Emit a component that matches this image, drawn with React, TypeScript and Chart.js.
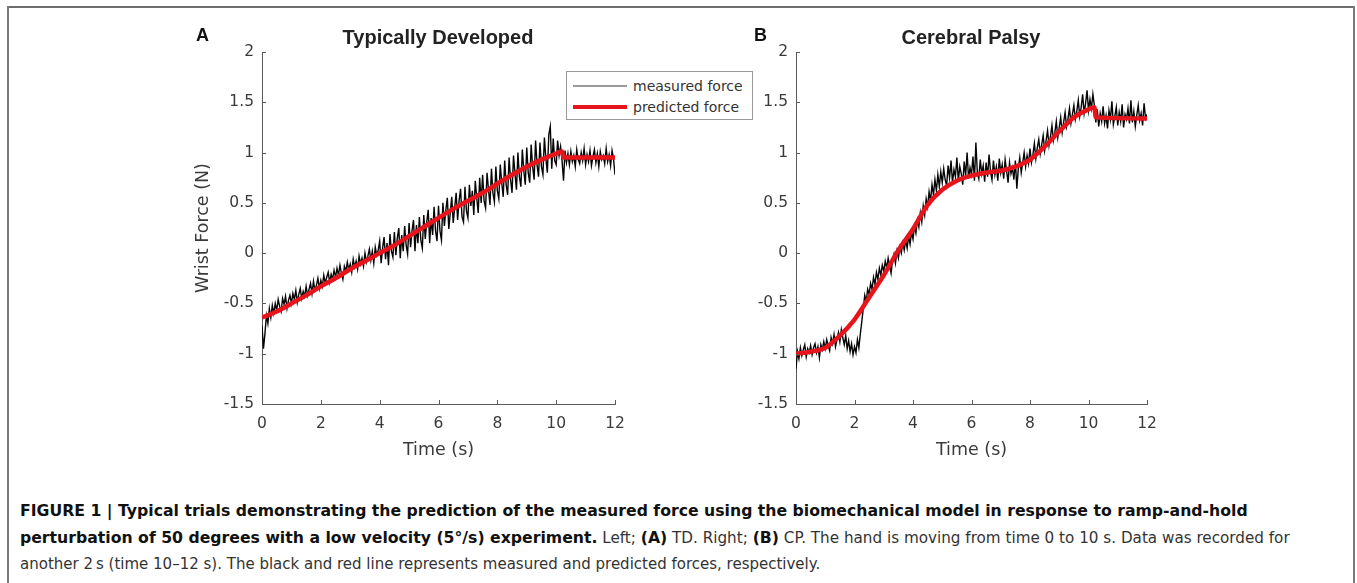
import React, { useEffect, useRef } from "react";
import { Chart, registerables } from "chart.js";
Chart.register(...registerables);

// ---- data ----
const TIME_STEP = 0.05; // s between measured samples

const tdMeasured = [
  -0.72, -0.95, -0.80, -0.62, -0.70, -0.55, -0.64, -0.52, -0.60, -0.50,
  -0.57, -0.46, -0.53, -0.58, -0.45, -0.51, -0.43, -0.55, -0.47, -0.42,
  -0.50, -0.40, -0.46, -0.37, -0.49, -0.41, -0.35, -0.45, -0.38, -0.43,
  -0.33, -0.42, -0.36, -0.30, -0.40, -0.28, -0.37, -0.32, -0.25, -0.35,
  -0.27, -0.33, -0.22, -0.30, -0.24, -0.19, -0.29, -0.21, -0.26, -0.17,
  -0.24, -0.15, -0.22, -0.12, -0.20, -0.26, -0.13, -0.18, -0.09, -0.17,
  -0.11, -0.19, -0.06, -0.14, -0.08, -0.16, -0.03, -0.11, -0.05, -0.13,
  0.00, -0.09, -0.03, 0.04, -0.07, 0.02, -0.10, 0.06, -0.02, 0.03,
  0.12, -0.10, 0.05, 0.16, -0.06, 0.10, -0.12, 0.19, 0.02, -0.04,
  0.21, -0.02, 0.15, 0.25, -0.05, 0.18, 0.02, 0.27, 0.08, -0.01,
  0.30, 0.06, 0.22, 0.33, 0.02, 0.28, 0.10, 0.36, 0.13, 0.05,
  0.38, 0.14, 0.31, 0.43, 0.10, 0.35, 0.18, 0.46, 0.22, 0.12,
  0.47, 0.22, 0.13, 0.50, 0.27, 0.43, 0.55, 0.24, 0.40, 0.56,
  0.30, 0.45, 0.60, 0.33, 0.52, 0.64, 0.36, 0.31, 0.66, 0.42,
  0.35, 0.68, 0.47, 0.62, 0.38, 0.72, 0.55, 0.40, 0.75, 0.50,
  0.78, 0.52, 0.45, 0.80, 0.63, 0.48, 0.84, 0.60, 0.51, 0.86,
  0.62, 0.54, 0.88, 0.70, 0.56, 0.92, 0.68, 0.58, 0.95, 0.73,
  0.60, 0.97, 0.79, 0.63, 1.00, 0.76, 0.66, 1.03, 0.82, 0.68,
  1.05, 0.80, 0.70, 1.08, 0.86, 0.73, 1.12, 0.88, 0.76, 1.10,
  0.86, 0.78, 1.15, 0.94, 0.80, 1.18, 1.26, 0.84, 1.14, 0.92,
  0.88, 1.12, 0.97, 1.06, 0.92, 0.72, 1.02, 0.90, 0.99, 0.88,
  1.01, 0.91, 0.97, 0.86, 1.03, 0.93, 0.89, 1.00, 0.92, 1.04,
  0.88, 0.98, 0.91, 1.02, 0.87, 0.96, 1.03, 0.90, 0.99, 0.86,
  1.01, 0.93, 0.97, 0.89, 1.04, 0.91, 0.98, 0.87, 1.02, 0.94,
  0.78,
];

const tdPredictedTime = [0, 0.5, 1, 1.5, 2, 2.5, 3, 3.5, 4, 4.5, 5, 5.5, 6, 6.5, 7, 7.5, 8, 8.5, 9, 9.5, 10, 10.2, 10.25, 12];
const tdPredicted = [-0.64, -0.58, -0.5, -0.42, -0.33, -0.25, -0.16, -0.08, 0.0, 0.08, 0.17, 0.26, 0.35, 0.44, 0.52, 0.6, 0.69, 0.78, 0.86, 0.93, 0.99, 1.01, 0.95, 0.95];

const cpMeasured = [
  -1.15, -0.98, -1.05, -0.94, -1.02, -0.96, -0.91, -1.03, -0.95, -0.99,
  -0.92, -1.01, -0.94, -0.90, -0.99, -0.93, -1.04, -0.91, -0.96, -0.88,
  -0.95, -0.86, -0.92, -0.97, -0.84, -0.90, -0.81, -0.93, -0.86, -0.79,
  -0.88, -0.76, -0.84, -0.91, -0.82, -0.95, -0.87, -0.98, -0.90, -1.01,
  -0.93, -0.99, -0.86, -0.94, -0.80, -0.68, -0.55, -0.42, -0.48, -0.36,
  -0.41, -0.30, -0.36, -0.24, -0.31, -0.19, -0.26, -0.15, -0.22, -0.12,
  -0.18, -0.08, -0.15, -0.05, -0.13, -0.20, -0.07, -0.01, -0.10, 0.02,
  -0.05, 0.06, 0.00, 0.10, 0.03, 0.13, 0.05, 0.17, 0.09, 0.21,
  0.14, 0.27, 0.20, 0.33, 0.26, 0.40, 0.31, 0.47, 0.38, 0.54,
  0.46, 0.61, 0.52, 0.68, 0.58, 0.73, 0.62, 0.78, 0.66, 0.81,
  0.70, 0.84, 0.73, 0.67, 0.87, 0.75, 0.92, 0.70, 0.83, 0.76,
  0.95, 0.72, 0.86, 0.79, 0.68, 0.91, 0.77, 1.00, 0.74, 0.85,
  0.78, 0.96, 0.72, 1.10, 0.80, 0.74, 0.93, 0.79, 0.87, 0.71,
  0.90, 0.76, 0.98, 0.81, 0.73, 0.92, 0.78, 0.86, 0.72, 0.94,
  0.80, 0.88, 0.74, 0.93, 0.82, 0.70, 0.90, 0.79, 0.85, 0.73,
  0.92, 0.64, 0.84, 0.95, 0.80, 0.90, 1.00, 0.86, 0.97, 0.89,
  1.04, 0.90, 0.98, 1.09, 0.94, 1.05, 1.13, 0.99, 1.08, 1.17,
  1.02, 1.12, 1.22, 1.07, 1.16, 1.27, 1.12, 1.20, 1.31, 1.15,
  1.25, 1.35, 1.20, 1.30, 1.40, 1.26, 1.34, 1.44, 1.29, 1.38,
  1.47, 1.33, 1.41, 1.52, 1.36, 1.45, 1.58, 1.39, 1.49, 1.62,
  1.42, 1.53, 1.44, 1.58, 1.47, 1.30, 1.43, 1.26, 1.39, 1.31,
  1.46, 1.29, 1.37, 1.24, 1.42, 1.33, 1.51, 1.28, 1.36, 1.45,
  1.27, 1.40, 1.31, 1.48, 1.25, 1.38, 1.33, 1.44, 1.29, 1.52,
  1.30, 1.41, 1.26, 1.37, 1.47, 1.32, 1.39, 1.27, 1.49, 1.34,
  1.38,
];

const cpPredictedTime = [0, 0.5, 1, 1.5, 2, 2.5, 3, 3.5, 4, 4.5, 5, 5.5, 6, 6.5, 7, 7.5, 8, 8.5, 9, 9.5, 10, 10.2, 10.25, 12];
const cpPredicted = [-1.0, -0.98, -0.94, -0.82, -0.66, -0.44, -0.22, 0.03, 0.24, 0.48, 0.63, 0.72, 0.77, 0.8, 0.82, 0.86, 0.93, 1.06, 1.21, 1.35, 1.43, 1.45, 1.35, 1.34];

const xMin = 0, xMax = 12, xStep = 2;
const yMin = -1.5, yMax = 2, yStep = 0.5;

const seriesNames = ["measured force", "predicted force"];
const panelTitles = ["Typically Developed", "Cerebral Palsy"];
const panelLetters = ["A", "B"];
const xTitle = "Time (s)";
const yTitle = "Wrist Force (N)";

// ---- styling ----
const FONT = "'Liberation Sans', Arial, Helvetica, sans-serif";
const WIDE = "'DejaVu Sans', 'Liberation Sans', sans-serif";
const AXIS = "#5a5a5a";
const TEXT = "#3a3a3a";
const RED = "#e8141b";

const inwardTicks = {
  id: "inwardTicks",
  afterDraw(chart: any) {
    const { ctx, chartArea } = chart;
    const x = chart.scales.x;
    const y = chart.scales.y;
    ctx.save();
    ctx.strokeStyle = AXIS;
    ctx.lineWidth = 1;
    x.ticks.forEach((t: any) => {
      const px = Math.round(x.getPixelForValue(t.value)) + 0.5;
      ctx.beginPath();
      ctx.moveTo(px, chartArea.bottom);
      ctx.lineTo(px, chartArea.bottom - 4);
      ctx.stroke();
    });
    y.ticks.forEach((t: any) => {
      const py = Math.round(y.getPixelForValue(t.value)) + 0.5;
      ctx.beginPath();
      ctx.moveTo(chartArea.left, py);
      ctx.lineTo(chartArea.left + 4, py);
      ctx.stroke();
    });
    ctx.restore();
  },
};

type PanelProps = {
  measured: number[];
  predTime: number[];
  pred: number[];
  left: number;
  width: number;
  yWidth: number;
  padRight: number;
  showYTitle: boolean;
};

function Panel({ measured, predTime, pred, left, width, yWidth, padRight, showYTitle }: PanelProps) {
  const ref = useRef<HTMLCanvasElement | null>(null);
  useEffect(() => {
    if (!ref.current) return;
    const measuredPts = measured.map((v, i) => ({ x: +(i * TIME_STEP).toFixed(2), y: v }));
    const predPts = pred.map((v, i) => ({ x: predTime[i], y: v }));
    const chart = new Chart(ref.current, {
      type: "line",
      data: {
        datasets: [
          {
            label: seriesNames[0],
            data: measuredPts,
            borderColor: "#050505",
            borderWidth: 1.4,
            pointRadius: 0,
            tension: 0,
            order: 2,
          },
          {
            label: seriesNames[1],
            data: predPts,
            borderColor: RED,
            borderWidth: 4.5,
            pointRadius: 0,
            cubicInterpolationMode: "monotone",
            order: 1,
          },
        ],
      },
      options: {
        animation: false,
        responsive: false,
        devicePixelRatio: 1,
        layout: { padding: { top: 12, right: padRight, bottom: 0, left: 0 } },
        plugins: { legend: { display: false }, tooltip: { enabled: false }, title: { display: false } },
        scales: {
          x: {
            type: "linear",
            min: xMin,
            max: xMax,
            grid: { display: false, drawTicks: false },
            border: { display: true, color: AXIS, width: 1 },
            ticks: {
              stepSize: xStep,
              color: TEXT,
              padding: 11,
              maxRotation: 0,
              font: { family: WIDE, size: 15.5 },
              callback: (v: any) => String(v),
            },
            title: {
              display: true,
              text: xTitle,
              color: TEXT,
              font: { family: WIDE, size: 17.5 },
              padding: { top: 0, bottom: 9 },
            },
            afterFit: (s: any) => {
              s.height = 66;
              s.paddingLeft = 0;
              s.paddingRight = 0;
            },
          },
          y: {
            type: "linear",
            min: yMin,
            max: yMax,
            grid: { display: false, drawTicks: false },
            border: { display: true, color: AXIS, width: 1 },
            ticks: {
              stepSize: yStep,
              color: TEXT,
              padding: 8,
              font: { family: WIDE, size: 15.5 },
              callback: (v: any) => String(v),
            },
            title: {
              display: showYTitle,
              text: yTitle,
              color: TEXT,
              font: { family: WIDE, size: 17.5 },
              padding: { top: 13, bottom: 0 },
            },
            afterFit: (s: any) => {
              s.width = yWidth;
              s.paddingTop = 0;
              s.paddingBottom = 0;
            },
          },
        },
      },
      plugins: [inwardTicks],
    } as any);
    return () => chart.destroy();
  }, []);
  return (
    <canvas
      ref={ref}
      width={width}
      height={430}
      style={{ position: "absolute", left, top: 40, width, height: 430 }}
    />
  );
}

const abs = (o: React.CSSProperties): React.CSSProperties => ({ position: "absolute", ...o });
const B = ({ children }: { children: React.ReactNode }) => (
  <b style={{ color: "#111", fontSize: 15.7 }}>{children}</b>
);

export default function App() {
  return (
    <div style={abs({ left: 0, top: 0, width: 1357, height: 583, background: "#fff", overflow: "hidden", fontFamily: FONT })}>
      {/* frame */}
      <div style={abs({ left: 7, top: 6, width: 1348, height: 2, background: "#6e6e6e" })} />
      <div style={abs({ left: 7, top: 6, width: 2, height: 600, background: "#7a7a7a" })} />
      <div style={abs({ left: 1353, top: 6, width: 2, height: 600, background: "#7a7a7a" })} />

      <Panel measured={tdMeasured} predTime={tdPredictedTime} pred={tdPredicted} left={180} width={450} yWidth={82} padRight={15} showYTitle={true} />
      <Panel measured={cpMeasured} predTime={cpPredictedTime} pred={cpPredicted} left={720} width={440} yWidth={76} padRight={13} showYTitle={false} />

      {/* panel letters and titles */}
      <div style={abs({ left: 196, top: 24, fontWeight: 700, fontSize: 18, color: "#111", lineHeight: "22px" })}>{panelLetters[0]}</div>
      <div style={abs({ left: 754, top: 24, fontWeight: 700, fontSize: 18, color: "#111", lineHeight: "22px" })}>{panelLetters[1]}</div>
      <div style={abs({ left: 288, width: 300, top: 26, textAlign: "center", fontWeight: 700, fontSize: 20, color: "#222", lineHeight: "22px" })}>{panelTitles[0]}</div>
      <div style={abs({ left: 821, width: 300, top: 26, textAlign: "center", fontWeight: 700, fontSize: 20, color: "#222", lineHeight: "22px" })}>{panelTitles[1]}</div>

      {/* legend */}
      <div style={abs({ left: 566, top: 71, width: 185, height: 47, border: "1px solid #9a9a9a", background: "#fff", fontFamily: WIDE })}>
        <div style={abs({ left: 6, top: 13, width: 54, height: 2, background: "#9a9a9a" })} />
        <div style={abs({ left: 6, top: 33, width: 54, height: 4, background: RED })} />
        <div style={abs({ left: 66, top: 4, fontSize: 14, color: "#333", lineHeight: "20px", whiteSpace: "nowrap" })}>{seriesNames[0]}</div>
        <div style={abs({ left: 66, top: 25, fontSize: 14, color: "#333", lineHeight: "20px", whiteSpace: "nowrap" })}>{seriesNames[1]}</div>
      </div>

      {/* caption */}
      <div style={abs({ left: 20, top: 500, fontFamily: WIDE, fontSize: 15, lineHeight: "22px", color: "#222", whiteSpace: "nowrap" })}>
        <B>FIGURE 1 | Typical trials demonstrating the prediction of the measured force using the biomechanical model in response to ramp-and-hold</B>
      </div>
      <div style={abs({ left: 20, top: 527, fontFamily: WIDE, fontSize: 15.2, lineHeight: "22px", color: "#333", whiteSpace: "nowrap" })}>
        <B>perturbation of 50 degrees with a low velocity (5°/s) experiment.</B> Left; <B>(A)</B> TD. Right; <B>(B)</B> CP. The hand is moving from time 0 to 10 s. Data was recorded for
      </div>
      <div style={abs({ left: 20, top: 553, fontFamily: WIDE, fontSize: 15, lineHeight: "22px", color: "#333", whiteSpace: "nowrap" })}>
        another 2{"\u2009"}s (time 10–12 s). The black and red line represents measured and predicted forces, respectively.
      </div>
    </div>
  );
}
